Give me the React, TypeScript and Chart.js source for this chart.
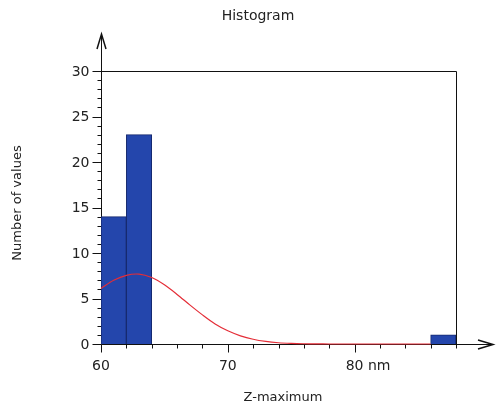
import React, { useEffect, useRef } from "react";
import { Chart, registerables } from "chart.js";

Chart.register(...registerables);

// Histogram bins (centre of each 2 nm bin) and counts
const binCenters = [61, 63, 87];
const binCounts = [14, 23, 1];

// Fitted normal curve
const curveX = [60, 61, 62, 63, 64, 65, 66, 67, 68, 69, 70, 71, 72, 73, 74, 75, 76, 77, 78, 79, 80, 81, 82, 83, 84, 85, 86];
const curveY = [6.1, 7.0, 7.55, 7.68, 7.3, 6.5, 5.45, 4.3, 3.2, 2.2, 1.45, 0.9, 0.52, 0.28, 0.14, 0.07, 0.03, 0.01, 0, 0, 0, 0, 0, 0, 0, 0, 0];

const yTickValues = [0, 5, 10, 15, 20, 25, 30];
const xTickValues = [60, 70, 80];
const xTickLabels = ["60", "70", "80"];
const xUnit = " nm";

const titleText = "Histogram";
const xTitle = "Z-maximum";
const yTitle = "Number of values";

const FONT = "'DejaVu Sans', Verdana, sans-serif";

const axesPlugin = {
  id: "histAxes",
  beforeDatasetsDraw(chart: any) {
    const { ctx, chartArea } = chart;
    const xs = chart.scales.x;
    const ys = chart.scales.y;
    const L = Math.round(chartArea.left) + 0.5;
    const R = Math.round(chartArea.right) + 0.5;
    const T = Math.round(chartArea.top) + 0.5;
    const B = Math.round(chartArea.bottom) + 0.5;
    ctx.save();
    ctx.strokeStyle = "#111";
    ctx.lineWidth = 1;
    // box top & right
    ctx.beginPath();
    ctx.moveTo(L, T);
    ctx.lineTo(R, T);
    ctx.lineTo(R, B);
    ctx.stroke();
    // y axis with arrow
    ctx.beginPath();
    ctx.moveTo(L, B);
    ctx.lineTo(L, 34);
    ctx.stroke();
    ctx.beginPath();
    ctx.moveTo(L - 4.5, 49);
    ctx.lineTo(L, 34);
    ctx.lineTo(L + 4.5, 49);
    ctx.lineWidth = 1.5;
    ctx.stroke();
    ctx.lineWidth = 1;
    // x axis with arrow
    ctx.beginPath();
    ctx.moveTo(L, B);
    ctx.lineTo(493, B);
    ctx.stroke();
    ctx.beginPath();
    ctx.moveTo(478, B - 4.5);
    ctx.lineTo(493, B);
    ctx.lineTo(478, B + 4.5);
    ctx.lineWidth = 1.5;
    ctx.stroke();
    ctx.lineWidth = 1;
    // y ticks
    ctx.beginPath();
    for (let v = ys.min; v <= ys.max; v += 1) {
      const py = Math.round(ys.getPixelForValue(v)) + 0.5;
      const len = v % 5 === 0 ? 9 : 4;
      ctx.moveTo(L - len, py);
      ctx.lineTo(L, py);
    }
    // x ticks
    for (let v = xs.min; v <= xs.max; v += 2) {
      const px = Math.round(xs.getPixelForValue(v)) + 0.5;
      const len = v % 10 === 0 ? 8 : 4;
      ctx.moveTo(px, B);
      ctx.lineTo(px, B + len);
    }
    ctx.stroke();

    // labels
    ctx.fillStyle = "#222";
    ctx.font = `14px ${FONT}`;
    ctx.textAlign = "right";
    ctx.textBaseline = "middle";
    yTickValues.forEach((v) => {
      ctx.fillText(String(v), L - 12, ys.getPixelForValue(v) + 1);
    });
    xTickValues.forEach((v, i) => {
      const px = xs.getPixelForValue(v);
      ctx.textAlign = "center";
      ctx.fillText(xTickLabels[i], px, B + 22);
      if (i === xTickValues.length - 1) {
        const w = ctx.measureText(xTickLabels[i]).width;
        ctx.textAlign = "left";
        ctx.fillText(xUnit, px + w / 2, B + 22);
      }
    });
    // titles
    ctx.textAlign = "center";
    ctx.fillText(titleText, 258, 16);
    ctx.font = `13px ${FONT}`;
    ctx.fillText(xTitle, 283, 398);
    ctx.save();
    ctx.translate(18, 203);
    ctx.rotate(-Math.PI / 2);
    ctx.fillText(yTitle, 0, 0);
    ctx.restore();
    ctx.restore();
  },
};

export default function App() {
  const ref = useRef<HTMLCanvasElement>(null);
  useEffect(() => {
    if (!ref.current) return;
    const chart = new Chart(ref.current, {
      type: "bar",
      data: {
        datasets: [
          {
            type: "line",
            data: curveX.map((x, i) => ({ x, y: curveY[i] })),
            borderColor: "rgb(228,45,55)",
            borderWidth: 1.2,
            pointRadius: 0,
            tension: 0.3,
            clip: 4,
            order: 0,
          } as any,
          {
            type: "bar",
            data: binCenters.map((x, i) => ({ x, y: binCounts[i] })),
            backgroundColor: "rgb(36,70,172)",
            borderColor: "rgb(20,40,110)",
            borderWidth: 1,
            barPercentage: 1,
            categoryPercentage: 1,
            grouped: false,
            order: 1,
          } as any,
        ],
      },
      options: {
        responsive: false,
        animation: false,
        events: [],
        layout: { padding: { left: 101, right: 45, top: 71, bottom: 73 } },
        plugins: { legend: { display: false }, tooltip: { enabled: false }, title: { display: false } },
        scales: {
          x: { type: "linear", display: false, offset: false, min: 60, max: 88, ticks: { stepSize: 2 } },
          y: { type: "linear", display: false, min: 0, max: 30, ticks: { stepSize: 5 } },
        },
      },
      plugins: [axesPlugin],
    });
    return () => chart.destroy();
  }, []);
  return (
    <canvas
      ref={ref}
      width={501}
      height={417}
      style={{ position: "fixed", left: 0, top: 0, display: "block", background: "#fff" }}
    />
  );
}
